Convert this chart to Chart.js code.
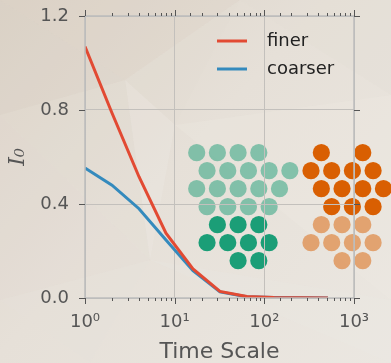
<!DOCTYPE html>
<html>
<head>
<meta charset="utf-8">
<script src="https://cdn.jsdelivr.net/npm/chart.js@4/dist/chart.umd.min.js"></script>
<style>
  html, body { margin: 0; padding: 0; background: #e6e0d8; }
  canvas { display: block; }
</style>
</head>
<body>
<canvas id="c" width="391" height="363"></canvas>
<script>
// ---- data ----
const timeScales = [1, 2, 4, 8, 16, 32, 64, 128, 256, 512];
const finer      = [1.07, 0.787, 0.516, 0.276, 0.124, 0.028, 0.006, 0.002, 0.001, 0.0];
const coarser    = [0.553, 0.48, 0.38, 0.247, 0.116, 0.026, 0.005, 0.002, 0.001, 0.0];
const seriesLabels = ['finer', 'coarser'];
const seriesColors = ['#E24A33', '#348ABD'];
const yTicks = [0, 0.4, 0.8, 1.2];
const xTickLabels = {1: '10\u2070', 10: '10\u00B9', 100: '10\u00B2', 1000: '10\u00B3'};
const yTitle = 'I\u2080';
const xTitle = 'Time Scale';

const TEXT_GRAY = '#555555';
const GRID = '#c3c0bc';

// decorative background (low-poly beige)
const bgPlugin = {
  id: 'bg',
  beforeDraw(chart) {
    const ctx = chart.ctx, W = chart.width, H = chart.height;
    ctx.save();
    const g = ctx.createLinearGradient(0, 0, W, H);
    g.addColorStop(0, '#ddd4c8');
    g.addColorStop(0.45, '#e6e0d8');
    g.addColorStop(1, '#ebe7e1');
    ctx.fillStyle = g;
    ctx.fillRect(0, 0, W, H);
    const tris = [
      [[0,0],[240,0],[125,80], 'rgba(214,204,192,0.25)'],
      [[0,0],[125,80],[0,115], 'rgba(212,202,190,0.2)'],
      [[125,80],[240,0],[175,125], 'rgba(226,218,208,0.2)'],
      [[125,80],[175,125],[150,260], 'rgba(240,236,230,0.25)'],
      [[0,115],[125,80],[150,260], 'rgba(226,219,210,0.2)'],
      [[0,115],[150,260],[0,300], 'rgba(224,217,208,0.2)'],
      [[240,0],[391,0],[391,95], 'rgba(226,220,212,0.2)'],
      [[175,125],[391,95],[391,300], 'rgba(238,234,229,0.25)'],
      [[0,300],[150,260],[90,363], 'rgba(232,227,220,0.2)'],
      [[150,260],[391,300],[391,363], 'rgba(237,233,228,0.2)']
    ];
    tris.forEach(t => {
      ctx.beginPath();
      ctx.moveTo(t[0][0], t[0][1]); ctx.lineTo(t[1][0], t[1][1]); ctx.lineTo(t[2][0], t[2][1]);
      ctx.closePath();
      ctx.fillStyle = t[3];
      ctx.fill();
    });
    // decorative dot clusters (inset illustration)
    const a = chart.chartArea;
    const dx = 20.7, dy = 18, r = 8.6;
    const clusters = [
      { ox: a.left + 111.7, oy: a.top + 136.7, rows: [
        [[0,2,4,6], 'rgba(27,158,119,0.5)'],
        [[1,3,5,7,9], 'rgba(27,158,119,0.5)'],
        [[0,2,4,6,8], 'rgba(27,158,119,0.5)'],
        [[1,3,5,7], 'rgba(27,158,119,0.5)'],
        [[2,4,6], '#1b9e77'],
        [[1,3,5,7], '#1b9e77'],
        [[4,6], '#1b9e77']
      ]},
      { ox: a.left + 226, oy: a.top + 136.7, rows: [
        [[1,5], '#d95f02'],
        [[0,2,4,6], '#d95f02'],
        [[1,3,5,7], '#d95f02'],
        [[2,4,6], '#d95f02'],
        [[1,3,5], 'rgba(217,95,2,0.5)'],
        [[0,2,4,6], 'rgba(217,95,2,0.5)'],
        [[3,5], 'rgba(217,95,2,0.5)']
      ]}
    ];
    clusters.forEach(cl => {
      cl.rows.forEach((row, ri) => {
        ctx.fillStyle = row[1];
        row[0].forEach(k => {
          ctx.beginPath();
          ctx.arc(cl.ox + k * dx / 2, cl.oy + ri * dy, r, 0, Math.PI * 2);
          ctx.fill();
        });
      });
    });
    ctx.restore();
  }
};

// frame, tick marks and legend
const framePlugin = {
  id: 'frame',
  afterDraw(chart) {
    const ctx = chart.ctx, a = chart.chartArea;
    const xs = chart.scales.x, ys = chart.scales.y;
    ctx.save();
    ctx.strokeStyle = '#bcbcbc';
    ctx.lineWidth = 1.5;
    ctx.strokeRect(a.left, a.top, a.right - a.left, a.bottom - a.top);
    ctx.strokeStyle = TEXT_GRAY;
    ctx.lineWidth = 1;
    xs.ticks.forEach(t => {
      const px = Math.round(xs.getPixelForValue(t.value)) + 0.5;
      const major = Math.abs(Math.log10(t.value) - Math.round(Math.log10(t.value))) < 1e-9;
      const len = major ? 6 : 3;
      ctx.beginPath();
      ctx.moveTo(px, a.bottom); ctx.lineTo(px, a.bottom + len);
      ctx.moveTo(px, a.top); ctx.lineTo(px, a.top - len);
      ctx.stroke();
    });
    ys.ticks.forEach(t => {
      const py = Math.round(ys.getPixelForValue(t.value)) + 0.5;
      ctx.beginPath();
      ctx.moveTo(a.left - 6, py); ctx.lineTo(a.left, py);
      ctx.moveTo(a.right, py); ctx.lineTo(a.right + 6, py);
      ctx.stroke();
    });
    // legend
    ctx.font = '18px "DejaVu Sans"';
    ctx.textBaseline = 'middle';
    ctx.textAlign = 'left';
    chart.data.datasets.forEach((ds, i) => {
      const y = a.top + 25 + i * 28;
      ctx.strokeStyle = ds.borderColor;
      ctx.lineWidth = 3;
      ctx.beginPath();
      ctx.moveTo(a.right - 137, y); ctx.lineTo(a.right - 107, y);
      ctx.stroke();
      ctx.fillStyle = '#222222';
      ctx.fillText(ds.label, a.right - 87, y);
    });
    ctx.restore();
  }
};

const seriesValues = [finer, coarser];
const datasets = seriesValues.map((vals, i) => ({
  label: seriesLabels[i],
  data: timeScales.map((t, j) => ({ x: t, y: vals[j] })),
  borderColor: seriesColors[i],
  backgroundColor: seriesColors[i],
  borderWidth: 3,
  pointRadius: 0,
  tension: 0,
  fill: false
}));

new Chart(document.getElementById('c'), {
  type: 'line',
  data: { datasets },
  options: {
    responsive: false,
    animation: false,
    layout: { padding: { top: 16, right: 37, left: 0, bottom: 0 } },
    plugins: { legend: { display: false }, tooltip: { enabled: false } },
    scales: {
      x: {
        type: 'logarithmic',
        min: 1, max: 1000,
        afterFit(scale) {
          scale.height = 65;
          scale.paddingLeft = 0; scale.paddingRight = 0;
          scale.paddingTop = 0; scale.paddingBottom = 0;
        },
        grid: {
          color: ctx => (ctx.tick && xTickLabels[ctx.tick.value]) ? GRID : 'rgba(0,0,0,0)',
          lineWidth: 1,
          drawTicks: false
        },
        border: { display: false },
        ticks: {
          autoSkip: false,
          maxRotation: 0,
          padding: 14,
          color: TEXT_GRAY,
          font: { family: 'DejaVu Sans', size: 18 },
          callback: v => xTickLabels[v] || ''
        },
        title: {
          display: true, text: xTitle, color: TEXT_GRAY,
          font: { family: 'DejaVu Sans', size: 22, lineHeight: 1 },
          padding: { top: 0, bottom: 0 }
        }
      },
      y: {
        type: 'linear',
        min: 0, max: 1.2,
        afterFit(scale) {
          scale.width = 85;
          scale.paddingTop = 0; scale.paddingBottom = 0;
          scale.paddingLeft = 0; scale.paddingRight = 0;
        },
        afterBuildTicks(scale) { scale.ticks = yTicks.map(v => ({ value: v })); },
        grid: { color: GRID, lineWidth: 1, drawTicks: false },
        border: { display: false },
        ticks: {
          padding: 16,
          color: TEXT_GRAY,
          font: { family: 'DejaVu Sans', size: 18 },
          callback: v => Number(v).toFixed(1)
        },
        title: {
          display: true, text: yTitle, color: TEXT_GRAY,
          font: { family: 'DejaVu Serif', size: 22, style: 'italic', lineHeight: 1 },
          padding: { top: 7, bottom: 0 }
        }
      }
    }
  },
  plugins: [bgPlugin, framePlugin]
});
</script>
</body>
</html>
